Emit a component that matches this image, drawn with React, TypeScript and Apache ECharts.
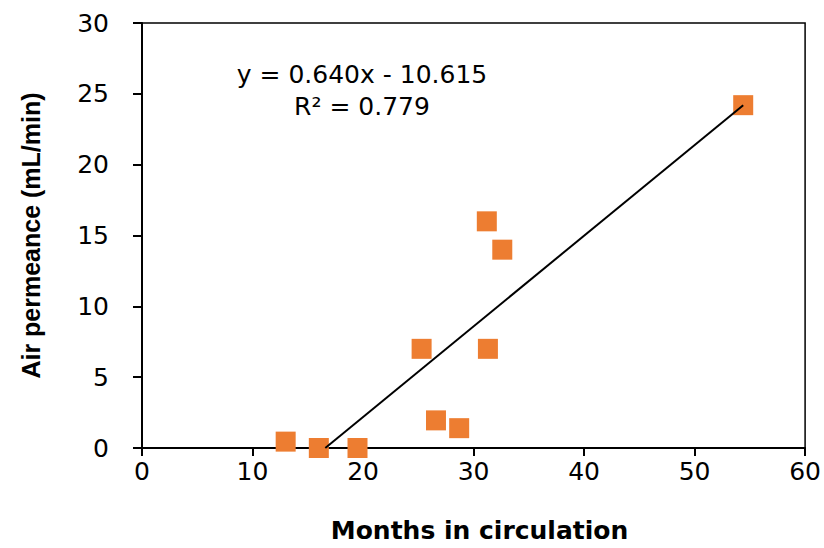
import React, { useEffect, useRef } from "react";
import * as echarts from "echarts";

const monthsInCirculation = [13.0, 16.0, 19.5, 25.3, 26.6, 28.7, 31.2, 31.3, 32.6, 54.4];
const airPermeance = [0.45, 0, 0, 7.0, 1.95, 1.4, 16.0, 7.0, 14.0, 24.2];
const trendSlope = 0.64;
const trendIntercept = -10.615;
const rSquared = 0.779;
const xTicks = { min: 0, max: 60, interval: 10 };
const yTicks = { min: 0, max: 30, interval: 5 };

export default function App() {
  const ref = useRef<HTMLDivElement>(null);
  useEffect(() => {
    if (!ref.current) return;
    const chart = echarts.init(ref.current, null, { renderer: "svg" });
    const wide = "'DejaVu Sans', Verdana, sans-serif";
    const arial = "'Liberation Sans', Arial, sans-serif";
    const points = monthsInCirculation.map((x, i) => [x, airPermeance[i]]);
    const xStart = -trendIntercept / trendSlope;
    const xEnd = Math.max(...monthsInCirculation);
    const trend = [
      [xStart, trendSlope * xStart + trendIntercept],
      [xEnd, trendSlope * xEnd + trendIntercept],
    ];
    chart.setOption({
      animation: false,
      backgroundColor: "#fff",
      textStyle: { fontFamily: wide },
      grid: {
        left: 142,
        right: 18,
        top: 23,
        bottom: 95,
        show: true,
        borderColor: "#000",
        borderWidth: 1.5,
        containLabel: false,
      },
      xAxis: {
        type: "value",
        min: xTicks.min,
        max: xTicks.max,
        interval: xTicks.interval,
        name: "Months in circulation",
        nameLocation: "middle",
        nameGap: 70,
        nameTextStyle: {
          fontFamily: wide,
          fontSize: 25,
          fontWeight: "bold",
          color: "#000",
          padding: [0, 0, 0, 12],
        },
        axisLine: { lineStyle: { color: "#000", width: 2 } },
        axisTick: { show: true, inside: false, length: 8, lineStyle: { color: "#000", width: 2 } },
        axisLabel: { fontFamily: wide, fontSize: 25, color: "#000", margin: 11 },
        splitLine: { show: false },
      },
      yAxis: {
        type: "value",
        min: yTicks.min,
        max: yTicks.max,
        interval: yTicks.interval,
        name: "Air permeance (mL/min)",
        nameLocation: "middle",
        nameGap: 99,
        nameTextStyle: { fontFamily: arial, fontSize: 25, fontWeight: "bold", color: "#000" },
        axisLine: { lineStyle: { color: "#000", width: 2 } },
        axisTick: { show: true, inside: false, length: 9, lineStyle: { color: "#000", width: 2 } },
        axisLabel: { fontFamily: wide, fontSize: 25, color: "#000", margin: 33 },
        splitLine: { show: false },
      },
      series: [
        {
          type: "scatter",
          data: points,
          symbol: "rect",
          symbolSize: 20,
          clip: false,
          itemStyle: { color: "#ED7D31", opacity: 1 },
          z: 2,
        },
        {
          type: "line",
          data: trend,
          symbol: "none",
          clip: false,
          lineStyle: { color: "#000", width: 2 },
          z: 3,
        },
      ],
      graphic: [
        {
          type: "text",
          x: 362,
          y: 58,
          style: {
            text: `y = ${trendSlope.toFixed(3)}x - ${Math.abs(trendIntercept).toFixed(3)}\nR² = ${rSquared.toFixed(3)}`,
            fontFamily: wide,
            fontSize: 25,
            lineHeight: 32,
            fill: "#000",
            textAlign: "center",
            textVerticalAlign: "top",
          },
        },
      ],
    });
    return () => chart.dispose();
  }, []);
  return <div ref={ref} style={{ width: 824, height: 548, position: "absolute", left: 0, top: 0 }} />;
}
